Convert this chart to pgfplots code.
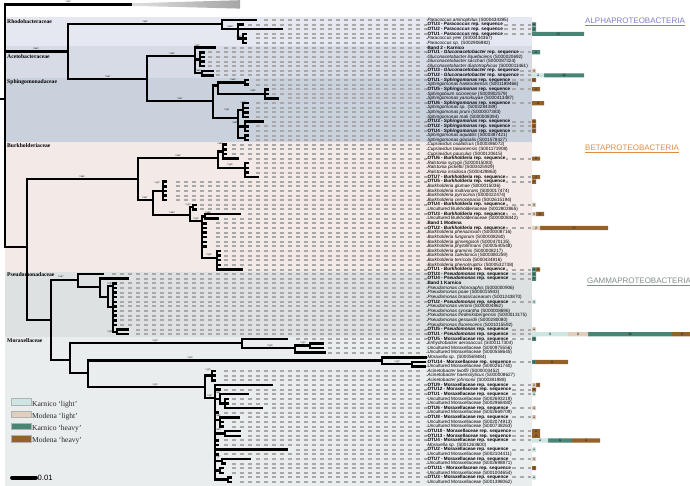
\documentclass[border=0pt]{standalone}
\usepackage{pgfplots}
\pgfplotsset{compat=1.18}
\usepackage{pgfplotstable}
\usepackage{fontspec}
\setmainfont{Liberation Sans}
\newfontfamily\serf{Liberation Serif}

\definecolor{cRh}{RGB}{229,231,241}
\definecolor{cAc}{RGB}{214,219,229}
\definecolor{cSp}{RGB}{201,209,221}
\definecolor{cBu}{RGB}{243,234,232}
\definecolor{cPs}{RGB}{221,225,225}
\definecolor{cMo}{RGB}{234,237,238}
\definecolor{kl}{RGB}{205,230,227}
\definecolor{ml}{RGB}{224,206,190}
\definecolor{kh}{RGB}{72,133,117}
\definecolor{mh}{RGB}{146,98,42}
\definecolor{dashc}{RGB}{168,168,168}
\definecolor{alphac}{RGB}{125,125,200}
\definecolor{betac}{RGB}{222,140,70}
\definecolor{gammac}{RGB}{128,142,134}

\newcommand{\spc}[2]{\textit{#1} (#2)}
\newcommand{\otu}[2]{\textbf{#1 - \textit{#2} rep. sequence}}
\newcommand{\otm}[1]{\textbf{#1 - Moraxellaceae rep. sequence}}
\newcommand{\unm}[1]{Uncultured Moraxellaceae (#1)}
\newcommand{\unb}[1]{Uncultured Burkholderiaceae (#1)}

% leaves: y, dash start, dash length, label
\pgfplotstableread[col sep=semicolon,row sep=\\]{
y;ds;du;label\\
20.0;264;160;\spc{Paracoccus aminophilus}{S000434395}\\
24.6;248;283;\otu{OTU3}{Paracoccus}\\
29.2;288;243;\otu{OTU2}{Paracoccus}\\
33.9;256;275;\otu{OTU1}{Paracoccus}\\
38.5;256;168;\spc{Paracoccus yeei}{S000434367}\\
43.1;256;168;\spc{Paracoccus sp.}{S002906982}\\
47.7;224;200;\textbf{Band 2 - Karnico}\\
52.3;208;323;\otu{OTU1}{Gluconacetobacter}\\
57.0;208;216;\spc{Gluconacetobacter liquefaciens}{S000020692}\\
61.6;208;216;\spc{Gluconacetobacter sacchari}{S000087324}\\
66.2;208;216;\spc{Gluconacetobacter diazotrophicus}{S000011461}\\
70.8;216;315;\otu{OTU3}{Gluconacetobacter}\\
75.4;216;315;\otu{OTU2}{Gluconacetobacter}\\
80.1;256;275;\otu{OTU1}{Sphingomonas}\\
84.7;256;168;\spc{Sphingomonas hankookensis}{S001189466}\\
89.3;272;259;\otu{OTU5}{Sphingomonas}\\
93.9;272;152;\spc{Sphingobium scionense}{S000902579}\\
98.5;288;136;\spc{Sphingomonas yanoikuyae}{S000413487}\\
103.2;256;275;\otu{OTU6}{Sphingomonas}\\
107.8;256;168;\spc{Sphingomonas sp.}{S003284389}\\
112.4;256;168;\spc{Sphingomonas pruni}{S000007383}\\
117.0;256;168;\spc{Sphingomonas mali}{S000008394}\\
121.6;272;259;\otu{OTU3}{Sphingomonas}\\
126.3;256;275;\otu{OTU2}{Sphingomonas}\\
130.9;256;275;\otu{OTU4}{Sphingomonas}\\
135.5;256;168;\spc{Sphingomonas aquatilis}{S000387421}\\
140.1;256;168;\spc{Sphingomonas glacialis}{S001578427}\\
144.7;232;192;\spc{Cupriavidus oxalaticus}{S000386072}\\
149.4;232;192;\spc{Cupriavidus taiwanensis}{S001171908}\\
154.0;232;192;\spc{Cupriavidus pauculus}{S000120615}\\
158.6;248;283;\otu{OTU6}{Burkholderia}\\
163.2;256;168;\spc{Ralstonia syzygii}{S000015083}\\
167.8;256;168;\spc{Ralstonia pickettii}{S000425929}\\
172.5;256;168;\spc{Ralstonia insidiosa}{S000429863}\\
177.1;264;267;\otu{OTU7}{Burkholderia}\\
181.7;176;355;\otu{OTU5}{Burkholderia}\\
186.3;176;248;\spc{Burkholderia glumae}{S000015036}\\
190.9;176;248;\spc{Burkholderia multivorans}{S000017474}\\
195.6;176;248;\spc{Burkholderia pyrrocinia}{S000022474}\\
200.2;176;248;\spc{Burkholderia cenocepacia}{S002615194}\\
204.8;200;331;\otu{OTU4}{Burkholderia}\\
209.4;200;224;\unb{S002802865}\\
214.0;248;283;\otu{OTU3}{Burkholderia}\\
218.7;224;200;\unb{S000008442}\\
223.3;216;208;\textbf{Band 1 Modena}\\
227.9;216;315;\otu{OTU2}{Burkholderia}\\
232.5;216;208;\spc{Burkholderia phenazinium}{S000008716}\\
237.1;216;208;\spc{Burkholderia fungorum}{S000008260}\\
241.8;216;208;\spc{Burkholderia ginsengisoli}{S000470135}\\
246.4;216;208;\spc{Burkholderia phytofirmans}{S000540548}\\
251.0;224;200;\spc{Burkholderia graminis}{S000008217}\\
255.6;224;200;\spc{Burkholderia caledonica}{S000380259}\\
260.2;224;200;\spc{Burkholderia terricola}{S000434816}\\
264.9;224;200;\spc{Burkholderia phenoliruptrix}{S000532738}\\
269.5;248;283;\otu{OTU1}{Burkholderia}\\
274.1;112;419;\otu{OTU3}{Pseudomonas}\\
278.7;136;395;\otu{OTU4}{Pseudomonas}\\
283.3;120;304;\textbf{Band 1 Karnico}\\
288.0;120;304;\spc{Pseudomonas chlororaphis}{S000000906}\\
292.6;120;304;\spc{Pseudomonas poae}{S000015943}\\
297.2;120;304;\spc{Pseudomonas brassicacearum}{S001243870}\\
301.8;120;411;\otu{OTU2}{Pseudomonas}\\
306.4;120;304;\spc{Pseudomonas veronii}{S000004862}\\
311.1;120;304;\spc{Pseudomonas synxantha}{S000008696}\\
315.7;120;304;\spc{Pseudomonas frederiksbergensis}{S000013175}\\
320.3;120;304;\spc{Pseudomonas gessardii}{S000280080}\\
324.9;120;304;\spc{Pseudomonas fluorescens}{S001015592}\\
329.5;136;395;\otu{OTU5}{Pseudomonas}\\
334.2;136;395;\otu{OTU1}{Pseudomonas}\\
338.8;296;235;\otm{OTU5}\\
343.4;328;96;\spc{Enhydrobacter aerosaccus}{S000117304}\\
348.0;328;96;\unm{S000975556}\\
352.6;328;96;\unm{S000558645}\\
357.3;430;0;\spc{Moraxella sp.}{S000569484}\\
361.9;432;99;\otm{OTU14}\\
366.5;430;0;\unm{S000261740}\\
371.1;224;200;\spc{Acinetobacter lwoffii}{S000003452}\\
375.7;224;200;\spc{Acinetobacter haemolyticus}{S000008627}\\
380.4;224;200;\spc{Acinetobacter johnsonii}{S000381988}\\
385.0;280;251;\otm{OTU9}\\
389.6;224;307;\otm{OTU12}\\
394.2;256;275;\otm{OTU1}\\
398.8;232;192;\unm{S002693219}\\
403.5;232;192;\unm{S002968480}\\
408.1;272;259;\otm{OTU6}\\
412.7;224;200;\unm{S002669709}\\
417.3;248;283;\otm{OTU8}\\
421.9;232;192;\unm{S002074913}\\
426.6;232;192;\unm{S000738263}\\
431.2;248;283;\otm{OTU10}\\
435.8;248;283;\otm{OTU13}\\
440.4;224;307;\otm{OTU4}\\
445.0;224;200;\spc{Moraxella sp.}{S001263600}\\
449.7;296;235;\otm{OTU2}\\
454.3;224;200;\unm{S002104411}\\
458.9;256;275;\otm{OTU7}\\
463.5;232;192;\unm{S002698871}\\
468.1;232;299;\otm{OTU11}\\
472.8;232;192;\unm{S001004654}\\
477.4;240;291;\otm{OTU3}\\
482.0;240;184;\unm{S001398062}\\
}\leaves

% tree branches: start x, start y, dx, dy
\pgfplotstableread[row sep=\\]{
x y u v\\
5 4.5 0 242.5\\ 0 99 5 0\\ 5 4.5 126 0\\ 5 51.5 63 0\\ 5 247 22 0\\
68 24 0 55\\ 68 24 154 0\\ 68 79 79 0\\
222 20 0 9\\ 222 20 34 0\\ 222 29 16 0\\
238 24.6 0 13.9\\ 238 24.6 5 0\\ 238 29.2 44 0\\ 238 38.5 5 0\\
243 33.9 0 9.2\\ 243 33.9 3 0\\ 243 38.5 3 0\\ 243 43.1 3 0\\
147 56 0 45\\ 147 56 48 0\\
195 47.7 0 25.4\\ 195 47.7 20 0\\ 195 59.3 5 0\\
200 52.3 0 13.9\\ 200 52.3 4 0\\ 200 57.0 4 0\\ 200 61.6 4 0\\ 200 66.2 4 0\\
195 73.1 7 0\\ 202 70.8 0 4.6\\ 202 70.8 11 0\\ 202 75.4 11 0\\
147 101 66 0\\ 213 85.5 0 32.5\\ 213 85.5 5 0\\
218 82.4 0 11.5\\ 218 82.4 27 0\\ 245 80.1 0 4.6\\ 245 80.1 3 0\\ 245 84.7 3 0\\
218 93.9 47 0\\ 265 89.3 0 9.2\\ 265 89.3 3 0\\ 265 93.9 3 0\\ 265 98.5 13 0\\
213 118 25 0\\ 238 110.1 0 27.7\\ 238 110.1 5 0\\
243 103.2 0 13.8\\ 243 103.2 5 0\\ 243 107.8 5 0\\ 243 112.4 5 0\\ 243 117.0 5 0\\
238 126.3 7 0\\ 245 121.6 0 9.3\\ 245 121.6 18 0\\ 245 126.3 3 0\\ 245 130.9 3 0\\
238 137.8 7 0\\ 245 135.5 0 4.6\\ 245 135.5 3 0\\ 245 140.1 3 0\\
27 179 0 141\\ 27 179 111 0\\ 138 158 0 42\\ 138 158 80 0\\
218 151.6 0 16.2\\ 218 151.6 5 0\\ 223 144.7 0 13.9\\
223 144.7 3 0\\ 223 149.4 3 0\\ 223 154.0 3 0\\ 223 158.6 15 0\\
218 167.8 27 0\\ 245 163.2 0 13.9\\ 245 163.2 3 0\\ 245 167.8 3 0\\ 245 172.5 3 0\\ 245 177.1 13 0\\
138 200 15 0\\ 153 191 0 24\\ 153 191 10 0\\ 163 181.7 0 18.5\\
163 181.7 3 0\\ 163 186.3 3 0\\ 163 190.9 3 0\\ 163 195.6 3 0\\ 163 200.2 3 0\\
153 215 37 0\\ 190 207.1 0 13.9\\ 190 207.1 3 0\\ 193 204.8 0 4.6\\ 193 204.8 3 0\\ 193 209.4 3 0\\
190 221 12 0\\ 202 216.4 0 41.6\\ 202 216.4 3 0\\ 205 214.0 0 4.7\\ 205 214.0 35 0\\ 205 218.7 13 0\\
202 223.3 4 0\\ 202 227.9 4 0\\ 202 232.5 4 0\\ 202 237.1 4 0\\ 202 241.8 4 0\\ 202 246.4 4 0\\
202 258 15 0\\ 217 251.0 0 18.5\\ 217 251.0 3 0\\ 217 255.6 3 0\\ 217 260.2 3 0\\ 217 264.9 3 0\\ 217 269.5 25 0\\
27 320 24 0\\ 51 280 0 80\\ 51 280 27 0\\ 78 274.1 0 12.9\\ 78 274.1 25 0\\ 78 287 22 0\\
100 278.7 0 18.3\\ 100 278.7 28 0\\ 100 297 8 0\\ 108 286 0 21\\ 108 286 5 0\\ 108 307 5 0\\
113 283.3 0 48.6\\ 113 283.3 3 0\\ 113 288.0 3 0\\ 113 292.6 3 0\\ 113 297.2 3 0\\ 113 301.8 3 0\\
113 306.4 3 0\\ 113 311.1 3 0\\ 113 315.7 3 0\\ 113 320.3 3 0\\ 113 324.9 3 0\\
113 331.9 4 0\\ 117 329.5 0 4.7\\ 117 329.5 11 0\\ 117 334.2 11 0\\
51 360 19 0\\ 70 343 0 30\\ 70 343 172 0\\ 242 338.8 0 9.2\\ 242 338.8 45 0\\ 242 348 53 0\\
295 345.7 0 6.9\\ 295 345.7 15 0\\ 310 343.4 0 4.6\\ 310 343.4 13 0\\ 310 348.0 13 0\\ 295 352.6 30 0\\
70 373 18 0\\ 88 360.5 0 26.5\\ 88 360.5 294 0\\ 382 357.3 0 6.9\\ 382 357.3 45 0\\ 382 364.2 30 0\\
412 361.9 0 4.6\\ 412 361.9 13 0\\ 412 366.5 13 0\\
88 387 117 0\\ 205 375.7 0 22.3\\ 205 375.7 7 0\\ 212 371.1 0 9.3\\ 212 371.1 3 0\\ 212 375.7 3 0\\ 212 380.4 3 0\\
205 398 10 0\\ 215 385 0 94.7\\ 215 385 57 0\\ 215 389.6 5 0\\
215 398.8 5 0\\ 220 394.2 0 9.3\\ 220 394.2 28 0\\ 220 403.5 5 0\\
225 398.8 0 9.3\\ 225 398.8 3 0\\ 225 403.5 3 0\\ 225 408.1 37 0\\
215 412.7 3 0\\ 215 420 5 0\\ 220 417.3 0 9.3\\ 220 417.3 19 0\\ 220 421.9 3 0\\ 220 426.6 3 0\\
215 433.5 10 0\\ 225 431.2 0 4.6\\ 225 431.2 15 0\\ 225 435.8 15 0\\
215 440.4 3 0\\ 215 445.0 3 0\\ 215 449.7 72 0\\ 215 454.3 3 0\\
215 461.2 7 0\\ 222 458.9 0 4.6\\ 222 458.9 28 0\\ 222 463.5 3 0\\
215 470.5 5 0\\ 220 468.1 0 4.7\\ 220 468.1 3 0\\ 220 472.8 3 0\\
215 479.7 13 0\\ 228 477.4 0 4.6\\ 228 477.4 3 0\\ 228 482.0 3 0\\
}\tree

% support values
\pgfplotstableread[row sep=\\]{
x y t\\
68 1.8 1.00\\ 36 48.5 0.83\\ 145 21.5 1.00\\ 230 26.5 0.93\\ 239 36.8 1.00\\
197 45.3 1.00\\ 172 53.5 0.99\\ 198 70.5 0.99\\ 108 76.5 0.97\\ 180 98.5 0.97\\
233 79.5 0.99\\ 253 90.5 0.95\\ 227 110 0.81\\ 243 102.3 1.00\\ 235 122.5 0.88\\
82 176.5 0.99\\ 178 155.5 0.99\\ 220 143.5 1.00\\ 230 165 0.96\\ 145 197.5 0.97\\
157 183 1.00\\ 172 212.5 0.93\\ 188 205 1.00\\ 196 219 0.99\\ 208 212.5 0.98\\
209 255 0.95\\ 61 276.5 0.77\\ 110 284 0.83\\ 110 332 0.88\\
155 341 1.00\\ 270 346 0.99\\ 303 343 1.00\\ 190 358 1.00\\ 155 385 1.00\\
208 370 1.00\\ 210 396 0.97\\ 397 362 1.00\\ 218 392.5 0.81\\ 218 415.5 0.86\\
218 429.5 0.85\\ 218 457 0.97\\ 218 471 0.88\\
}\supp

% bars: Karnico light, Modena light, Karnico heavy, Modena heavy
\pgfplotstableread[row sep=\\]{
y kl ml kh mh\\
24.6 0 0 1 0\\ 29.2 0 0 1 0\\ 33.9 0 0 13 0\\ 52.3 0 0 2 0\\ 70.8 0 1 0 0\\
75.4 3 0 10 0\\ 80.1 0 0 0 1\\ 89.3 0 0 0 2\\ 103.2 0 0 0 3\\ 121.6 0 0 0 1\\
126.3 0 0 0 1\\ 130.9 0 0 0 1\\ 158.6 0 0 0 2\\ 177.1 0 0 0 2\\ 181.7 0 0 0 1\\
204.8 0 1 0 0\\ 214.0 0 1 0 2\\ 227.9 0 2 0 17\\ 269.5 0 0 1 1\\ 274.1 0 0 1 0\\
278.7 0 0 1 0\\ 301.8 1 0 0 0\\ 329.5 0 1 0 0\\ 334.2 9 5 21 5\\ 338.8 0 0 1 0\\
361.9 0 0 1 8\\ 385.0 0 1 0 1\\ 389.6 0 0 0 1\\ 394.2 1 0 0 0\\ 408.1 0 1 0 0\\
417.3 0 1 0 0\\ 431.2 0 0 0 2\\ 435.8 0 0 0 2\\ 440.4 4 0 6 7\\ 449.7 1 0 0 0\\
458.9 0 1 0 0\\ 468.1 0 0 0 1\\ 477.4 1 0 0 0\\
}\bars

% bar value labels (x in picture units: 532 + 4 per count, segment centres)
\pgfplotstableread[row sep=\\]{
x y t\\
534 24.6 1\\ 534 29.2 1\\ 558 33.9 13\\ 536 52.3 2\\ 534 70.8 1\\
538 75.4 3\\ 564 75.4 10\\ 534 80.1 1\\ 536 89.3 2\\ 538 103.2 3\\
534 121.6 1\\ 534 126.3 1\\ 534 130.9 1\\ 536 158.6 2\\ 536 177.1 2\\ 534 181.7 1\\
534 204.8 1\\ 534 214.0 1\\ 540 214.0 2\\ 536 227.9 2\\ 574 227.9 17\\
534 269.5 1\\ 538 269.5 1\\ 534 274.1 1\\ 534 278.7 1\\ 534 301.8 1\\ 534 329.5 1\\
550 334.2 9\\ 578 334.2 5\\ 630 334.2 30\\ 682 334.2 5\\ 534 338.8 1\\
534 361.9 1\\ 552 361.9 8\\ 534 385.0 1\\ 538 385.0 1\\ 534 389.6 1\\ 534 394.2 1\\
534 408.1 1\\ 534 417.3 1\\ 536 431.2 2\\ 536 435.8 2\\ 540 440.4 4\\ 560 440.4 6\\ 586 440.4 7\\
534 449.7 1\\ 534 458.9 1\\ 534 468.1 1\\ 534 477.4 1\\
}\barlabs

\pgfplotsset{
  txtplot/.style={only marks, mark=*, mark size=0.1bp, mark options={draw=none,fill=none},
    scatter, point meta=explicit symbolic, scatter/@post marker code/.code={}},
  leaflab/.style={txtplot,
    scatter/@pre marker code/.code={\node[anchor=west, inner xsep=0.3bp, inner ysep=0pt, fill=#1, text=black, font=\fontsize{4.65}{4.65}\selectfont] at (0,0) {\pgfplotspointmeta};}},
  lgbox/.style={legend image code/.code={\path[##1,draw=gray!60,line width=0.35bp] (0bp,-0.9bp) rectangle (20bp,5.8bp);}},
  pixaxis/.style={scale only axis, width=690bp, height=486bp,
    xmin=0, xmax=690, ymin=0, ymax=486, y dir=reverse, hide axis, clip=true},
}
\newcommand{\famfont}{\serf\bfseries\fontsize{5.7}{5.7}\selectfont}

\begin{document}
\begin{tikzpicture}
\begin{axis}[pixaxis]
% family backgrounds
\addplot[fill=cRh, draw=none] coordinates {(5,17) (532,17) (532,46) (5,46)} -- cycle;
\addplot[fill=cAc, draw=none] coordinates {(5,46) (532,46) (532,77.8) (5,77.8)} -- cycle;
\addplot[fill=cSp, draw=none] coordinates {(5,77.8) (532,77.8) (532,142.4) (5,142.4)} -- cycle;
\addplot[fill=cBu, draw=none] coordinates {(5,142.4) (532,142.4) (532,271.8) (5,271.8)} -- cycle;
\addplot[fill=cPs, draw=none] coordinates {(5,271.8) (532,271.8) (532,336.5) (5,336.5)} -- cycle;
\addplot[fill=cMo, draw=none] coordinates {(5,336.5) (532,336.5) (532,486) (5,486)} -- cycle;
% collapsed outgroup wedge
\addplot[draw=none, left color=gray!25, right color=gray!70] coordinates {(131,3.3) (240,0.2) (240,8.6) (131,5.8)} -- cycle;
% dotted leaders
\addplot[dashc, line width=2bp, dash pattern=on 4bp off 4bp, quiver={u=\thisrow{du}, v=0}] table[x=ds, y=y] {\leaves};
% tree
\addplot[black, line width=2.5bp, line cap=rect, quiver={u=\thisrow{u}, v=\thisrow{v}, every arrow/.append style={line cap=rect}}] table[x=x, y=y] {\tree};
% leaf labels, one plot per family background
\addplot[leaflab=cRh, restrict y to domain=0:46] table[x expr=427, y=y, meta=label] {\leaves};
\addplot[leaflab=cAc, restrict y to domain=46:77.8] table[x expr=427, y=y, meta=label] {\leaves};
\addplot[leaflab=cSp, restrict y to domain=77.8:142.4] table[x expr=427, y=y, meta=label] {\leaves};
\addplot[leaflab=cBu, restrict y to domain=142.4:271.8] table[x expr=427, y=y, meta=label] {\leaves};
\addplot[leaflab=cPs, restrict y to domain=271.8:336.5] table[x expr=427, y=y, meta=label] {\leaves};
\addplot[leaflab=cMo, restrict y to domain=336.5:486] table[x expr=427, y=y, meta=label] {\leaves};
% support values
\addplot[txtplot, scatter/@pre marker code/.code={\node[anchor=center, inner sep=0pt, text=black!75, font=\fontsize{2.7}{2.7}\selectfont] at (0,0) {\pgfplotspointmeta};}]
  table[x=x, y=y, meta=t] {\supp};
% scale bar
\addplot[black, line width=3.8bp, line cap=round] coordinates {(12,477.7) (36,477.7)};
\node[anchor=west, inner sep=0pt, font=\fontsize{7.7}{8}\selectfont] at (axis cs:37.5,478) {0.01};
% family names
\node[anchor=west, inner sep=0pt, font=\famfont] at (axis cs:7,21.5) {Rhodobacteraceae};
\node[anchor=west, inner sep=0pt, font=\famfont] at (axis cs:7,56.5) {Acetobacteraceae};
\node[anchor=west, inner sep=0pt, font=\famfont] at (axis cs:7,82.5) {Sphingomonadaceae};
\node[anchor=west, inner sep=0pt, font=\famfont] at (axis cs:7,146) {Burkholderiaceae};
\node[anchor=west, inner sep=0pt, font=\famfont] at (axis cs:7,275) {Pseudomonadaceae};
\node[anchor=west, inner sep=0pt, font=\famfont] at (axis cs:7,340.5) {Moraxellaceae};
% class names
\node[anchor=west, inner sep=0pt, text=alphac, font=\fontsize{8}{8}\selectfont] at (axis cs:585,22) {\underline{ALPHAPROTEOBACTERIA}};
\node[anchor=west, inner sep=0pt, text=betac, font=\fontsize{8}{8}\selectfont] at (axis cs:585,148.5) {\underline{BETAPROTEOBACTERIA}};
\node[anchor=west, inner sep=0pt, text=gammac, font=\fontsize{8}{8}\selectfont] at (axis cs:587,282) {\underline{GAMMAPROTEOBACTERIA}};
\end{axis}

% abundance bars (1 unit = 4 px, starting at x = 532) and legend
\begin{axis}[scale only axis, width=690bp, height=486bp,
  xmin=-133, xmax=39.5, ymin=0, ymax=486, y dir=reverse, hide axis, clip=true,
  xbar stacked, bar width=4.2bp, legend cell align=left,
  legend style={at={(axis cs:-130.3,398.4)}, anchor=north west, draw=none, fill=none,
    inner sep=0pt, outer sep=0pt, row sep=1.8bp, nodes={inner sep=1bp},
    font=\serf\fontsize{7.6}{8}\selectfont, text=black!85}]
\addplot[fill=kl, draw=none, lgbox] table[x=kl, y=y] {\bars};
\addlegendentry{Karnico ‘light’}
\addplot[fill=ml, draw=none, lgbox] table[x=ml, y=y] {\bars};
\addlegendentry{Modena ‘light’}
\addplot[fill=kh, draw=none, lgbox] table[x=kh, y=y] {\bars};
\addlegendentry{Karnico ‘heavy’}
\addplot[fill=mh, draw=none, lgbox] table[x=mh, y=y] {\bars};
\addlegendentry{Modena ‘heavy’}
\end{axis}

% bar value labels on top of the bars
\begin{axis}[pixaxis]
\addplot[txtplot, scatter/@pre marker code/.code={\node[anchor=center, inner sep=0pt, text=black!80, font=\fontsize{3.6}{3.6}\selectfont] at (0,0) {\pgfplotspointmeta};}]
  table[x=x, y=y, meta=t] {\barlabs};
\end{axis}
\pgfresetboundingbox
\useasboundingbox (0,0) rectangle (690bp,486bp);
\end{tikzpicture}
\end{document}
